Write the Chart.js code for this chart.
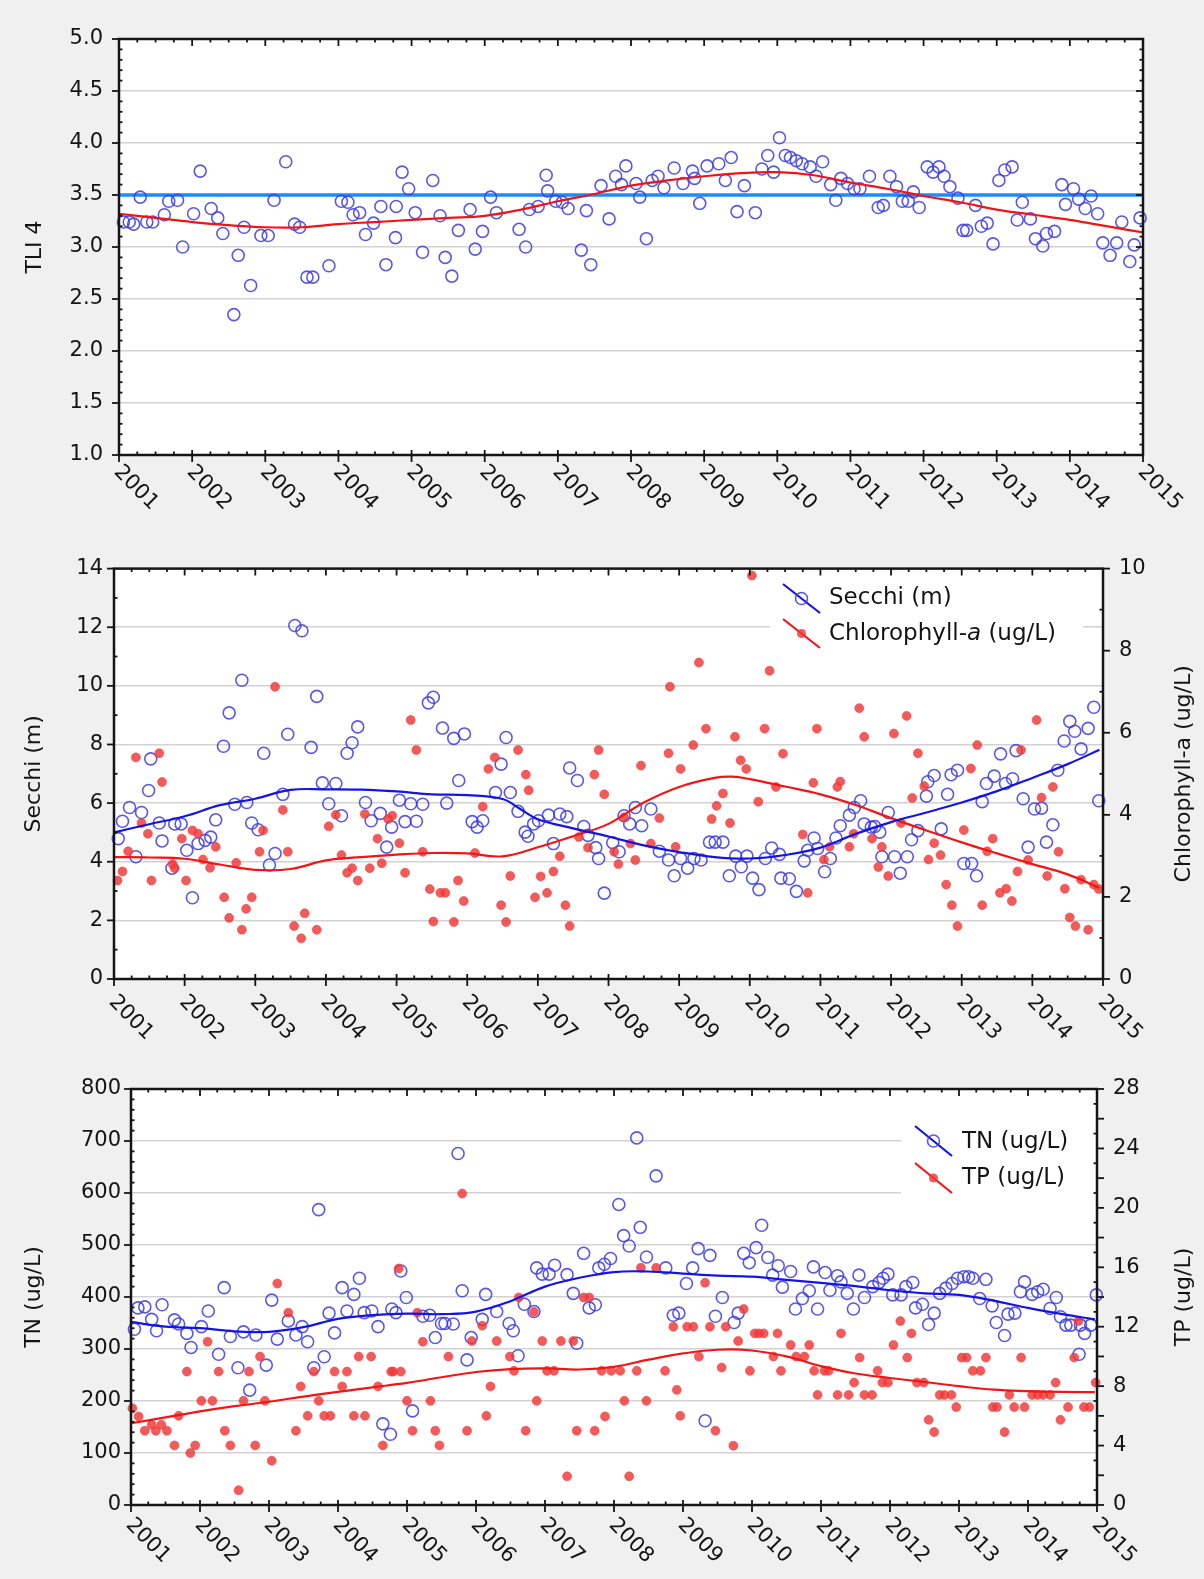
<!DOCTYPE html>
<html>
<head>
<meta charset="utf-8">
<script src="https://cdn.jsdelivr.net/npm/chart.js@4.4.1/dist/chart.umd.min.js"></script>
<style>
    html, body { margin: 0; padding: 0; background: #f0f0f0; }
    body { width: 1204px; height: 1579px; position: relative; overflow: hidden; }
    canvas { position: absolute; left: 0; }
</style>
</head>
<body>
<canvas id="tliChart" width="1204" height="535" style="top:0px"></canvas>
<canvas id="secchiChart" width="1204" height="520" style="top:540px"></canvas>
<canvas id="nutrientChart" width="1204" height="519" style="top:1060px"></canvas>
<script>
// x axis: years
var yearTicks = [2001, 2002, 2003, 2004, 2005, 2006, 2007, 2008, 2009, 2010, 2011, 2012, 2013, 2014, 2015];
var yearLabels = ['2001', '2002', '2003', '2004', '2005', '2006', '2007', '2008', '2009', '2010', '2011', '2012', '2013', '2014', '2015'];

// panel 1 - TLI samples [year, value]
var tliSamples = [
    [2001.06, 3.24], [2001.14, 3.24], [2001.20, 3.22], [2001.29, 3.48], [2001.38, 3.24], [2001.46, 3.24], [2001.62, 3.31], [2001.68, 3.44], [2001.80, 3.45], [2001.87, 3.00],
    [2002.02, 3.32], [2002.11, 3.73], [2002.26, 3.37], [2002.35, 3.28], [2002.42, 3.13], [2002.57, 2.35], [2002.63, 2.92], [2002.71, 3.19], [2002.80, 2.63], [2002.94, 3.11],
    [2003.04, 3.11], [2003.12, 3.45], [2003.28, 3.82], [2003.40, 3.22], [2003.47, 3.19], [2003.57, 2.71], [2003.65, 2.71], [2003.87, 2.82],
    [2004.04, 3.44], [2004.13, 3.43], [2004.20, 3.31], [2004.29, 3.33], [2004.37, 3.12], [2004.48, 3.23], [2004.58, 3.39], [2004.65, 2.83], [2004.78, 3.09], [2004.79, 3.39], [2004.87, 3.72], [2004.96, 3.56],
    [2005.05, 3.33], [2005.15, 2.95], [2005.29, 3.64], [2005.39, 3.30], [2005.46, 2.90], [2005.55, 2.72], [2005.64, 3.16], [2005.80, 3.36], [2005.87, 2.98], [2005.97, 3.15],
    [2006.08, 3.48], [2006.16, 3.33], [2006.47, 3.17], [2006.56, 3.00], [2006.61, 3.36], [2006.73, 3.39], [2006.84, 3.69], [2006.86, 3.54], [2006.97, 3.44],
    [2007.06, 3.43], [2007.14, 3.37], [2007.32, 2.97], [2007.39, 3.35], [2007.45, 2.83], [2007.59, 3.59], [2007.70, 3.27], [2007.79, 3.68], [2007.87, 3.60], [2007.93, 3.78],
    [2008.07, 3.61], [2008.12, 3.48], [2008.21, 3.08], [2008.29, 3.64], [2008.37, 3.68], [2008.45, 3.57], [2008.59, 3.76], [2008.71, 3.61], [2008.84, 3.73], [2008.87, 3.66], [2008.94, 3.42],
    [2009.04, 3.78], [2009.20, 3.80], [2009.29, 3.64], [2009.37, 3.86], [2009.45, 3.34], [2009.55, 3.59], [2009.70, 3.33], [2009.79, 3.75], [2009.87, 3.88], [2009.95, 3.72],
    [2010.03, 4.05], [2010.11, 3.88], [2010.18, 3.86], [2010.26, 3.83], [2010.34, 3.80], [2010.45, 3.77], [2010.53, 3.68], [2010.62, 3.82], [2010.73, 3.60], [2010.80, 3.45], [2010.87, 3.66], [2010.96, 3.61],
    [2011.05, 3.56], [2011.13, 3.56], [2011.26, 3.68], [2011.38, 3.38], [2011.45, 3.40], [2011.54, 3.68], [2011.63, 3.58], [2011.71, 3.44], [2011.79, 3.44], [2011.86, 3.53], [2011.94, 3.38],
    [2012.05, 3.77], [2012.13, 3.72], [2012.21, 3.77], [2012.28, 3.68], [2012.36, 3.58], [2012.47, 3.47], [2012.54, 3.16], [2012.59, 3.16], [2012.71, 3.40], [2012.79, 3.20], [2012.87, 3.23], [2012.95, 3.03],
    [2013.03, 3.64], [2013.11, 3.74], [2013.21, 3.77], [2013.28, 3.26], [2013.35, 3.43], [2013.46, 3.27], [2013.53, 3.08], [2013.63, 3.01], [2013.68, 3.13], [2013.79, 3.15], [2013.89, 3.60], [2013.94, 3.41],
    [2014.05, 3.56], [2014.12, 3.46], [2014.21, 3.37], [2014.29, 3.49], [2014.38, 3.32], [2014.45, 3.04], [2014.55, 2.92], [2014.64, 3.04], [2014.71, 3.24], [2014.82, 2.86], [2014.88, 3.02], [2014.96, 3.28]
];
var tliTrend = [
    [2001, 3.32], [2001.5, 3.28], [2002, 3.24], [2002.5, 3.21], [2003, 3.19], [2003.5, 3.19], [2004, 3.22], [2004.5, 3.24], [2005, 3.26], [2005.5, 3.28],
    [2006, 3.30], [2006.5, 3.36], [2007, 3.44], [2007.5, 3.51], [2008, 3.59], [2008.5, 3.64], [2009, 3.68], [2009.5, 3.71], [2010, 3.72], [2010.5, 3.69],
    [2011, 3.62], [2011.5, 3.56], [2012, 3.49], [2012.5, 3.43], [2013, 3.36], [2013.5, 3.31], [2014, 3.26], [2014.5, 3.20], [2015, 3.14]
];
var tliTarget = [[2001, 3.5], [2015, 3.5]];

// panel 2 - Secchi (m) and Chlorophyll-a (ug/L)
var secchiSamples = [
    [2001.06, 4.79], [2001.12, 5.38], [2001.22, 5.85], [2001.31, 4.17], [2001.39, 5.68], [2001.49, 6.43], [2001.52, 7.51], [2001.64, 5.32], [2001.68, 4.71], [2001.82, 3.78], [2001.86, 5.29], [2001.95, 5.29],
    [2002.03, 4.39], [2002.11, 2.77], [2002.19, 4.62], [2002.29, 4.73], [2002.37, 4.84], [2002.44, 5.43], [2002.55, 7.94], [2002.63, 9.08], [2002.71, 5.96], [2002.81, 10.19], [2002.88, 6.02], [2002.95, 5.32],
    [2003.04, 5.09], [2003.12, 7.70], [2003.20, 3.89], [2003.28, 4.28], [2003.39, 6.30], [2003.46, 8.35], [2003.56, 12.06], [2003.66, 11.88], [2003.79, 7.90], [2003.87, 9.64], [2003.95, 6.69],
    [2004.04, 5.98], [2004.14, 6.67], [2004.22, 5.57], [2004.30, 7.70], [2004.37, 8.06], [2004.45, 8.60], [2004.56, 6.02], [2004.64, 5.40], [2004.77, 5.65], [2004.86, 4.50], [2004.93, 5.18],
    [2005.04, 6.10], [2005.12, 5.37], [2005.20, 5.98], [2005.28, 5.38], [2005.37, 5.96], [2005.45, 9.42], [2005.52, 9.61], [2005.65, 8.56], [2005.71, 6.00], [2005.81, 8.21], [2005.88, 6.77], [2005.96, 8.36],
    [2006.07, 5.37], [2006.14, 5.18], [2006.22, 5.40], [2006.40, 6.36], [2006.48, 7.33], [2006.55, 8.24], [2006.61, 6.36], [2006.72, 5.72], [2006.82, 5.01], [2006.86, 4.87], [2006.94, 5.29],
    [2007.01, 5.40], [2007.15, 5.59], [2007.22, 4.62], [2007.31, 5.63], [2007.41, 5.54], [2007.45, 7.20], [2007.56, 6.77], [2007.65, 5.20], [2007.71, 4.90], [2007.82, 4.48], [2007.86, 4.11], [2007.94, 2.93],
    [2008.06, 4.65], [2008.15, 4.34], [2008.22, 5.57], [2008.30, 5.29], [2008.38, 5.85], [2008.47, 5.23], [2008.60, 5.80], [2008.72, 4.36], [2008.85, 4.06], [2008.93, 3.52],
    [2009.02, 4.11], [2009.12, 3.78], [2009.21, 4.11], [2009.31, 4.06], [2009.43, 4.67], [2009.51, 4.67], [2009.62, 4.67], [2009.71, 3.52], [2009.80, 4.19], [2009.88, 3.83], [2009.96, 4.19],
    [2010.04, 3.44], [2010.13, 3.05], [2010.22, 4.11], [2010.31, 4.47], [2010.42, 4.25], [2010.44, 3.44], [2010.56, 3.42], [2010.66, 2.99], [2010.77, 4.03], [2010.82, 4.39], [2010.91, 4.81], [2010.96, 4.45],
    [2011.06, 3.66], [2011.14, 4.11], [2011.22, 4.81], [2011.28, 5.23], [2011.41, 5.59], [2011.48, 5.85], [2011.57, 6.08], [2011.62, 5.29], [2011.72, 5.18], [2011.77, 5.20], [2011.84, 5.01], [2011.87, 4.17], [2011.96, 5.68],
    [2012.05, 4.17], [2012.13, 3.61], [2012.23, 4.17], [2012.29, 4.75], [2012.38, 5.06], [2012.50, 6.24], [2012.52, 6.73], [2012.61, 6.94], [2012.71, 5.12], [2012.80, 6.30], [2012.85, 6.97], [2012.94, 7.12],
    [2013.03, 3.94], [2013.14, 3.94], [2013.21, 3.52], [2013.29, 6.05], [2013.35, 6.67], [2013.46, 6.92], [2013.55, 7.68], [2013.62, 6.67], [2013.72, 6.83], [2013.77, 7.79], [2013.87, 6.15], [2013.94, 4.50],
    [2014.03, 5.80], [2014.13, 5.83], [2014.20, 4.67], [2014.29, 5.26], [2014.36, 7.12], [2014.45, 8.12], [2014.53, 8.79], [2014.60, 8.45], [2014.69, 7.85], [2014.79, 8.55], [2014.87, 9.27], [2014.94, 6.08]
];
var chlSamples = [
    [2001.05, 2.40], [2001.12, 2.62], [2001.20, 3.11], [2001.31, 5.40], [2001.39, 3.80], [2001.48, 3.54], [2001.53, 2.40], [2001.64, 5.50], [2001.68, 4.80], [2001.83, 2.80], [2001.86, 2.70], [2001.96, 3.42],
    [2002.02, 2.40], [2002.11, 3.62], [2002.19, 3.54], [2002.26, 2.91], [2002.36, 2.71], [2002.44, 3.22], [2002.56, 1.99], [2002.63, 1.49], [2002.73, 2.83], [2002.81, 1.20], [2002.87, 1.71], [2002.95, 1.99],
    [2003.06, 3.10], [2003.11, 3.62], [2003.28, 7.12], [2003.39, 4.12], [2003.46, 3.10], [2003.55, 1.29], [2003.65, 0.99], [2003.70, 1.60], [2003.87, 1.20],
    [2004.04, 3.72], [2004.14, 4.00], [2004.22, 3.02], [2004.30, 2.59], [2004.37, 2.70], [2004.45, 2.40], [2004.55, 4.02], [2004.62, 2.70], [2004.73, 3.42], [2004.79, 2.82], [2004.88, 3.90], [2004.94, 3.98],
    [2005.04, 3.31], [2005.12, 2.59], [2005.20, 6.31], [2005.28, 5.58], [2005.37, 3.10], [2005.47, 2.19], [2005.52, 1.40], [2005.62, 2.10], [2005.69, 2.10], [2005.81, 1.39], [2005.87, 2.40], [2005.95, 1.90],
    [2006.11, 3.07], [2006.22, 4.20], [2006.30, 5.12], [2006.39, 5.40], [2006.48, 1.80], [2006.55, 1.39], [2006.61, 2.51], [2006.72, 5.58], [2006.83, 4.98], [2006.87, 4.60], [2006.96, 1.99],
    [2007.04, 2.50], [2007.13, 2.10], [2007.22, 2.62], [2007.31, 2.99], [2007.39, 1.80], [2007.45, 1.29], [2007.58, 3.46], [2007.71, 3.20], [2007.80, 4.98], [2007.86, 5.58], [2007.94, 4.50],
    [2008.08, 3.10], [2008.14, 2.80], [2008.22, 3.94], [2008.31, 3.30], [2008.38, 2.90], [2008.46, 5.20], [2008.60, 3.30], [2008.72, 3.92], [2008.85, 5.50], [2008.87, 7.12], [2008.95, 3.22],
    [2009.02, 5.12], [2009.20, 5.70], [2009.28, 7.71], [2009.38, 6.10], [2009.46, 3.90], [2009.53, 4.22], [2009.62, 4.52], [2009.72, 3.80], [2009.79, 5.90], [2009.87, 5.33], [2009.95, 5.12],
    [2010.03, 9.83], [2010.12, 4.32], [2010.21, 6.10], [2010.28, 7.51], [2010.37, 4.68], [2010.47, 5.49], [2010.75, 3.52], [2010.82, 2.10], [2010.90, 4.78], [2010.95, 6.10],
    [2011.05, 2.91], [2011.13, 3.22], [2011.24, 4.68], [2011.28, 4.81], [2011.41, 3.22], [2011.47, 3.54], [2011.55, 6.60], [2011.62, 5.90], [2011.73, 3.42], [2011.82, 2.73], [2011.87, 3.22], [2011.96, 2.51],
    [2012.04, 5.98], [2012.14, 3.80], [2012.22, 6.41], [2012.30, 4.41], [2012.38, 5.50], [2012.47, 4.70], [2012.53, 2.91], [2012.61, 3.31], [2012.70, 3.02], [2012.78, 2.30], [2012.86, 1.80], [2012.94, 1.29],
    [2013.03, 3.63], [2013.13, 5.13], [2013.22, 5.70], [2013.29, 1.80], [2013.36, 3.11], [2013.44, 3.42], [2013.54, 2.10], [2013.63, 2.20], [2013.71, 1.90], [2013.79, 2.62], [2013.84, 5.58], [2013.94, 2.90],
    [2014.06, 6.31], [2014.13, 4.42], [2014.21, 2.51], [2014.29, 4.68], [2014.37, 3.10], [2014.46, 2.20], [2014.53, 1.50], [2014.61, 1.29], [2014.69, 2.42], [2014.79, 1.20], [2014.87, 2.30], [2014.94, 2.19]
];
var secchiTrend = [
    [2001, 5.00], [2001.5, 5.28], [2002, 5.55], [2002.5, 5.93], [2003, 6.15], [2003.5, 6.45], [2004, 6.47], [2004.5, 6.46], [2005, 6.40], [2005.5, 6.30],
    [2006, 6.27], [2006.5, 6.14], [2006.75, 5.80], [2007, 5.45], [2007.5, 5.14], [2008, 4.86], [2008.5, 4.56], [2009, 4.33], [2009.5, 4.16], [2010, 4.11],
    [2010.5, 4.23], [2011, 4.48], [2011.5, 4.95], [2012, 5.35], [2012.5, 5.68], [2013, 6.02], [2013.5, 6.41], [2014, 6.86], [2014.5, 7.33], [2014.95, 7.82]
];
var chlTrend = [
    [2001, 2.97], [2001.5, 2.96], [2002, 2.93], [2002.5, 2.79], [2003, 2.66], [2003.5, 2.68], [2004, 2.89], [2004.5, 2.97], [2005, 3.03], [2005.5, 3.07],
    [2006, 3.06], [2006.5, 2.99], [2007, 3.21], [2007.5, 3.48], [2008, 3.78], [2008.5, 4.30], [2009, 4.68], [2009.5, 4.90], [2009.75, 4.93], [2010, 4.87],
    [2010.5, 4.69], [2011, 4.50], [2011.5, 4.24], [2012, 3.92], [2012.5, 3.62], [2013, 3.33], [2013.5, 3.06], [2014, 2.80], [2014.5, 2.55], [2014.95, 2.22]
];

// panel 3 - TN and TP (ug/L)
var tnSamples = [
    [2001.05, 338], [2001.10, 379], [2001.20, 381], [2001.30, 357], [2001.37, 335], [2001.45, 385], [2001.63, 356], [2001.69, 348], [2001.81, 330], [2001.87, 303],
    [2002.02, 343], [2002.12, 373], [2002.27, 290], [2002.35, 418], [2002.44, 324], [2002.55, 264], [2002.63, 333], [2002.72, 221], [2002.81, 327], [2002.96, 269],
    [2003.04, 394], [2003.12, 319], [2003.28, 354], [2003.39, 327], [2003.48, 343], [2003.56, 314], [2003.65, 264], [2003.72, 568], [2003.80, 285], [2003.87, 369], [2003.95, 331],
    [2004.06, 418], [2004.13, 373], [2004.23, 405], [2004.31, 436], [2004.38, 370], [2004.49, 373], [2004.58, 343], [2004.65, 156], [2004.76, 136], [2004.78, 377], [2004.84, 370], [2004.91, 450], [2004.99, 399],
    [2005.08, 181], [2005.23, 363], [2005.33, 365], [2005.41, 322], [2005.50, 349], [2005.55, 349], [2005.67, 348], [2005.74, 676], [2005.80, 412], [2005.87, 279], [2005.93, 322],
    [2006.09, 357], [2006.14, 405], [2006.30, 372], [2006.48, 349], [2006.54, 335], [2006.61, 287], [2006.70, 386], [2006.84, 372], [2006.88, 456], [2006.96, 444],
    [2007.06, 444], [2007.14, 461], [2007.32, 443], [2007.41, 407], [2007.46, 311], [2007.56, 484], [2007.64, 379], [2007.73, 385], [2007.78, 456], [2007.86, 463], [2007.95, 474],
    [2008.07, 578], [2008.14, 518], [2008.22, 498], [2008.33, 706], [2008.38, 534], [2008.47, 477], [2008.61, 633], [2008.75, 456], [2008.86, 365], [2008.94, 369],
    [2009.05, 426], [2009.14, 456], [2009.22, 493], [2009.32, 162], [2009.39, 480], [2009.47, 363], [2009.57, 399], [2009.74, 351], [2009.80, 369], [2009.88, 484], [2009.96, 466],
    [2010.06, 495], [2010.14, 538], [2010.23, 476], [2010.30, 442], [2010.38, 460], [2010.44, 419], [2010.56, 449], [2010.63, 377], [2010.73, 397], [2010.83, 412], [2010.89, 458], [2010.95, 377],
    [2011.06, 447], [2011.13, 413], [2011.24, 441], [2011.29, 429], [2011.38, 407], [2011.47, 377], [2011.55, 442], [2011.63, 399], [2011.75, 420], [2011.84, 428], [2011.90, 436], [2011.97, 444],
    [2012.04, 404], [2012.16, 404], [2012.23, 420], [2012.33, 428], [2012.37, 379], [2012.47, 386], [2012.56, 347], [2012.64, 369], [2012.72, 407], [2012.81, 417], [2012.90, 426], [2012.98, 436],
    [2013.07, 439], [2013.14, 439], [2013.20, 436], [2013.30, 397], [2013.39, 434], [2013.48, 383], [2013.54, 351], [2013.66, 326], [2013.71, 367], [2013.81, 369], [2013.89, 410], [2013.95, 429],
    [2014.06, 405], [2014.14, 410], [2014.22, 415], [2014.32, 378], [2014.41, 399], [2014.47, 362], [2014.55, 346], [2014.62, 346], [2014.74, 290], [2014.76, 346], [2014.82, 330], [2014.91, 346], [2014.99, 404]
];
var tpSamples = [
    [2001.02, 6.52], [2001.11, 5.96], [2001.20, 5.00], [2001.30, 5.40], [2001.36, 5.00], [2001.44, 5.40], [2001.52, 5.00], [2001.63, 4.01], [2001.69, 6.00], [2001.81, 8.98], [2001.86, 3.50], [2001.93, 4.01],
    [2002.02, 7.01], [2002.11, 10.99], [2002.18, 7.01], [2002.27, 8.98], [2002.36, 5.00], [2002.44, 4.01], [2002.56, 0.99], [2002.63, 7.01], [2002.71, 8.98], [2002.80, 4.01], [2002.87, 9.99], [2002.94, 7.01],
    [2003.04, 2.98], [2003.12, 14.91], [2003.28, 12.94], [2003.39, 5.00], [2003.46, 7.98], [2003.56, 6.00], [2003.65, 8.98], [2003.72, 7.01], [2003.80, 6.00], [2003.89, 6.00], [2003.95, 8.98],
    [2004.06, 7.98], [2004.13, 8.98], [2004.23, 6.00], [2004.30, 9.99], [2004.39, 6.00], [2004.48, 9.99], [2004.58, 7.98], [2004.65, 4.01], [2004.77, 8.98], [2004.80, 8.98], [2004.88, 15.92], [2004.91, 8.98],
    [2005.00, 7.01], [2005.08, 5.00], [2005.15, 12.94], [2005.23, 10.99], [2005.34, 7.01], [2005.41, 5.00], [2005.47, 4.01], [2005.60, 9.99], [2005.80, 20.96], [2005.87, 5.00], [2005.94, 11.04],
    [2006.09, 12.07], [2006.15, 6.00], [2006.21, 7.98], [2006.30, 11.04], [2006.49, 9.99], [2006.55, 9.03], [2006.62, 13.97], [2006.72, 5.00], [2006.84, 13.00], [2006.88, 7.01], [2006.96, 11.04],
    [2007.03, 9.03], [2007.13, 9.03], [2007.23, 11.04], [2007.32, 1.93], [2007.41, 11.04], [2007.46, 5.00], [2007.56, 13.97], [2007.64, 13.97], [2007.72, 5.00], [2007.82, 9.03], [2007.87, 5.96], [2007.96, 9.03],
    [2008.09, 9.03], [2008.15, 7.01], [2008.22, 1.93], [2008.33, 9.03], [2008.39, 15.97], [2008.47, 7.01], [2008.61, 15.97], [2008.74, 9.03], [2008.86, 12.00], [2008.91, 7.75], [2008.96, 6.00],
    [2009.06, 12.00], [2009.15, 12.00], [2009.23, 9.99], [2009.32, 14.96], [2009.39, 12.00], [2009.47, 5.00], [2009.56, 9.25], [2009.62, 12.00], [2009.73, 3.99], [2009.80, 11.04], [2009.88, 13.19], [2009.97, 9.03],
    [2010.04, 11.55], [2010.10, 11.55], [2010.17, 11.55], [2010.31, 9.99], [2010.37, 11.55], [2010.42, 9.03], [2010.56, 10.77], [2010.64, 9.99], [2010.76, 9.99], [2010.83, 10.77], [2010.90, 9.03], [2010.95, 7.41],
    [2011.05, 9.03], [2011.11, 9.03], [2011.24, 7.41], [2011.29, 11.55], [2011.40, 7.41], [2011.48, 8.24], [2011.56, 9.92], [2011.63, 7.41], [2011.74, 7.41], [2011.82, 9.03], [2011.89, 8.24], [2011.97, 8.24],
    [2012.05, 10.77], [2012.15, 12.38], [2012.25, 9.92], [2012.31, 11.55], [2012.39, 8.24], [2012.49, 8.24], [2012.56, 5.73], [2012.64, 4.91], [2012.72, 7.41], [2012.79, 7.41], [2012.89, 7.41], [2012.96, 6.59],
    [2013.04, 9.92], [2013.11, 9.92], [2013.20, 9.03], [2013.31, 9.03], [2013.39, 9.92], [2013.49, 6.59], [2013.55, 6.59], [2013.66, 4.91], [2013.73, 7.41], [2013.80, 6.59], [2013.90, 9.92], [2013.95, 6.59],
    [2014.06, 7.41], [2014.14, 7.41], [2014.22, 7.41], [2014.32, 7.41], [2014.40, 8.24], [2014.47, 5.73], [2014.58, 6.59], [2014.67, 9.92], [2014.73, 12.38], [2014.81, 6.59], [2014.89, 6.59], [2014.98, 8.24]
];
var tnTrend = [
    [2001, 352], [2001.5, 343], [2002, 340], [2002.5, 334], [2003, 333], [2003.5, 342], [2004, 358], [2004.5, 365], [2005, 368], [2005.5, 367],
    [2006, 372], [2006.5, 392], [2007, 420], [2007.5, 437], [2008, 448], [2008.5, 449], [2009, 445], [2009.5, 441], [2010, 439], [2010.5, 433],
    [2011, 427], [2011.5, 421], [2012, 413], [2012.5, 407], [2013, 404], [2013.5, 393], [2014, 379], [2014.5, 367], [2014.97, 357]
];
var tpTrend = [
    [2001, 5.50], [2001.5, 5.90], [2002, 6.30], [2002.5, 6.65], [2003, 6.95], [2003.5, 7.30], [2004, 7.62], [2004.5, 7.92], [2005, 8.22], [2005.5, 8.60],
    [2006, 8.95], [2006.5, 9.15], [2007, 9.20], [2007.5, 9.12], [2008, 9.30], [2008.5, 9.78], [2009, 10.20], [2009.5, 10.45], [2010, 10.40], [2010.5, 10.00],
    [2011, 9.35], [2011.5, 8.85], [2012, 8.55], [2012.5, 8.28], [2013, 8.00], [2013.5, 7.76], [2014, 7.66], [2014.5, 7.61], [2014.97, 7.60]
];

var FONT = '"DejaVu Sans", "Open Sans", sans-serif';
var TEXT = '#141414';
var CIRCLE = 'rgba(60, 60, 225, 0.85)';
var DOT = 'rgba(240, 55, 55, 0.82)';

function toPoints(pairs) {
    return pairs.map(function (p) { return { x: p[0], y: p[1] }; });
}

function circleSet(pairs, axis, order) {
    return {
        data: toPoints(pairs), yAxisID: axis, order: order, clip: false,
        pointStyle: 'circle', pointRadius: 6, pointBorderWidth: 1.6,
        pointBorderColor: CIRCLE, pointBackgroundColor: 'rgba(0,0,0,0)'
    };
}

function dotSet(pairs, axis, order) {
    return {
        data: toPoints(pairs), yAxisID: axis, order: order, clip: false,
        pointStyle: 'circle', pointRadius: 4.5, pointBorderWidth: 1,
        pointBorderColor: 'rgba(235, 70, 70, 0.6)', pointBackgroundColor: DOT
    };
}

function lineSet(pairs, axis, color, width, order) {
    return {
        data: toPoints(pairs), yAxisID: axis, order: order, showLine: true,
        borderColor: color, borderWidth: width, pointRadius: 0, tension: 0.4, fill: false
    };
}

function xAxis() {
    return {
        type: 'linear', min: 2001, max: 2015,
        ticks: { display: false },
        grid: { display: false, drawTicks: false },
        border: { display: false },
        afterFit: function (s) { s.height = 0; }
    };
}

function yAxis(pos, min, max, step, width, pad, fmt, grid) {
    return {
        type: 'linear', position: pos, min: min, max: max,
        ticks: { stepSize: step, padding: pad, color: TEXT, font: { family: FONT, size: 21 }, callback: fmt },
        grid: { display: grid, color: '#d2d2d2', lineWidth: 1.6, drawTicks: false },
        border: { display: false },
        afterFit: function (s) { s.width = width; }
    };
}

function baseOptions(padding, scales) {
    return {
        responsive: false,
        animation: false,
        events: [],
        layout: { padding: padding },
        plugins: { legend: { display: false }, tooltip: { enabled: false } },
        scales: scales
    };
}

// axis frame, tick marks, rotated year labels, axis titles and the legend
function framePlugin(cfg) {
    function yTicks(c, scale, a, t, side) {
        var n = Math.round((scale.max - scale.min) / t.minor);
        var x0 = side === 'left' ? a.left : a.right;
        var outDir = side === 'left' ? -1 : 1;
        for (var i = 0; i <= n; i++) {
            var v = scale.min + i * t.minor;
            var py = scale.getPixelForValue(v);
            var r = v / t.major;
            var major = Math.abs(r - Math.round(r)) < 1e-6;
            c.beginPath();
            if (major) {
                var d = t.mirror ? -outDir : outDir;
                c.moveTo(x0, py); c.lineTo(x0 + d * 7, py);
            } else {
                c.moveTo(x0, py); c.lineTo(x0 - outDir * 3.5, py);
            }
            c.stroke();
        }
    }

    return {
        id: 'frame',
        beforeDraw: function (chart) {
            var a = chart.chartArea, c = chart.ctx;
            c.save();
            c.fillStyle = '#ffffff';
            c.fillRect(a.left, a.top, a.right - a.left, a.bottom - a.top);
            c.restore();
        },
        beforeDatasetsDraw: function (chart) {
            if (!cfg.legend) return;
            var c = chart.ctx, b = cfg.legend.box;
            c.save();
            c.fillStyle = '#ffffff';
            c.fillRect(b[0], b[1], b[2], b[3]);
            c.restore();
        },
        afterDatasetsDraw: function (chart) {
            if (!cfg.legend) return;
            var c = chart.ctx;
            c.save();
            cfg.legend.entries.forEach(function (e) {
                c.strokeStyle = e.color;
                c.lineWidth = 2.2;
                c.beginPath(); c.moveTo(e.x0, e.y0); c.lineTo(e.x1, e.y1); c.stroke();
                var mx = (e.x0 + e.x1) / 2, my = (e.y0 + e.y1) / 2;
                c.beginPath();
                if (e.marker === 'circle') {
                    c.arc(mx, my, 6, 0, Math.PI * 2);
                    c.lineWidth = 1.6; c.strokeStyle = CIRCLE; c.stroke();
                } else {
                    c.arc(mx, my, 4.5, 0, Math.PI * 2);
                    c.fillStyle = DOT; c.fill();
                }
                var tx = e.tx;
                c.fillStyle = TEXT;
                c.textBaseline = 'middle';
                c.textAlign = 'left';
                e.parts.forEach(function (p) {
                    c.font = (p[1] ? 'italic ' : '') + '23px ' + FONT;
                    c.fillText(p[0], tx, e.ty);
                    tx += c.measureText(p[0]).width;
                });
            });
            c.restore();
        },
        afterDraw: function (chart) {
            var a = chart.chartArea, c = chart.ctx;
            var xs = chart.scales.x;
            c.save();
            c.strokeStyle = '#151515';
            c.lineWidth = 2.5;
            c.strokeRect(a.left, a.top, a.right - a.left, a.bottom - a.top);

            c.lineWidth = 1.8;
            // year ticks and quarter ticks
            for (var q = 0; q <= 56; q++) {
                var px = xs.getPixelForValue(2001 + q / 4);
                c.beginPath();
                if (q % 4 === 0) {
                    c.moveTo(px, a.bottom - 5); c.lineTo(px, a.bottom + 7);
                    c.moveTo(px, a.top); c.lineTo(px, a.top + 7);
                } else {
                    c.moveTo(px, a.bottom - 3.5); c.lineTo(px, a.bottom);
                    c.moveTo(px, a.top); c.lineTo(px, a.top + 3.5);
                }
                c.stroke();
            }
            yTicks(c, chart.scales[cfg.left.id], a, cfg.left, 'left');
            yTicks(c, chart.scales[cfg.right.id], a, cfg.right, 'right');

            // rotated year labels
            c.fillStyle = TEXT;
            c.font = '21px ' + FONT;
            yearTicks.forEach(function (yr, i) {
                var px = xs.getPixelForValue(yr);
                c.save();
                c.translate(px - 2, a.bottom + cfg.labelDy);
                c.rotate(Math.PI / 4);
                c.textAlign = 'left';
                c.textBaseline = 'middle';
                c.fillText(yearLabels[i], 0, 0);
                c.restore();
            });

            // axis titles, read bottom to top
            c.font = '22px ' + FONT;
            cfg.titles.forEach(function (t) {
                c.save();
                c.translate(t.x, (a.top + a.bottom) / 2);
                c.rotate(-Math.PI / 2);
                c.textAlign = 'center';
                c.textBaseline = 'middle';
                c.fillText(t.text, 0, 0);
                c.restore();
            });
            c.restore();
        }
    };
}

// panel 1: TLI
new Chart(document.getElementById('tliChart'), {
    type: 'scatter',
    data: {
        datasets: [
            lineSet(tliTrend, 'y', '#f01414', 2.2, 0),
            circleSet(tliSamples, 'y', 1),
            lineSet(tliTarget, 'y', '#1a8cff', 3.5, 2)
        ]
    },
    options: baseOptions({ left: 0, top: 39, right: 61, bottom: 80 }, {
        x: xAxis(),
        y: yAxis('left', 1, 5, 0.5, 119, 16, function (v) { return v.toFixed(1); }, true)
    }),
    plugins: [framePlugin({
        left: { id: 'y', major: 0.5, minor: 0.1 },
        right: { id: 'y', major: 0.5, minor: 0.1, mirror: true },
        titles: [{ text: 'TLI 4', x: 35 }],
        labelDy: 14
    })]
});

// panel 2: Secchi and Chlorophyll-a
new Chart(document.getElementById('secchiChart'), {
    type: 'scatter',
    data: {
        datasets: [
            lineSet(secchiTrend, 'y', '#1414e6', 2.2, 0),
            lineSet(chlTrend, 'y1', '#f51414', 2.2, 0),
            dotSet(chlSamples, 'y1', 1),
            circleSet(secchiSamples, 'y', 2)
        ]
    },
    options: baseOptions({ left: 0, top: 23, right: 41, bottom: 81 }, {
        x: xAxis(),
        y: yAxis('left', 0, 14, 2, 114, 11, function (v) { return v; }, true),
        y1: yAxis('right', 0, 10, 2, 60, 16, function (v) { return v; }, false)
    }),
    plugins: [framePlugin({
        left: { id: 'y', major: 2, minor: 1 },
        right: { id: 'y1', major: 2, minor: 1 },
        titles: [{ text: 'Secchi (m)', x: 34 }, { text: 'Chlorophyll-a (ug/L)', x: 1184 }],
        labelDy: 20,
        legend: {
            box: [770, 28, 313, 94],
            entries: [
                { x0: 783, y0: 44, x1: 820, y1: 73, color: '#1414e6', marker: 'circle', tx: 829, ty: 58, parts: [['Secchi (m)', false]] },
                { x0: 783, y0: 79, x1: 820, y1: 108, color: '#f51414', marker: 'dot', tx: 829, ty: 94, parts: [['Chlorophyll-', false], ['a', true], [' (ug/L)', false]] }
            ]
        }
    })]
});

// panel 3: TN and TP
new Chart(document.getElementById('nutrientChart'), {
    type: 'scatter',
    data: {
        datasets: [
            lineSet(tnTrend, 'y', '#1414e6', 2.2, 0),
            lineSet(tpTrend, 'y1', '#f51414', 2.2, 0),
            dotSet(tpSamples, 'y1', 1),
            circleSet(tnSamples, 'y', 2)
        ]
    },
    options: baseOptions({ left: 0, top: 29, right: 47, bottom: 74 }, {
        x: xAxis(),
        y: yAxis('left', 0, 800, 100, 131, 10, function (v) { return v; }, true),
        y1: yAxis('right', 0, 28, 4, 60, 16, function (v) { return v; }, false)
    }),
    plugins: [framePlugin({
        left: { id: 'y', major: 100, minor: 20 },
        right: { id: 'y1', major: 2, minor: 1 },
        titles: [{ text: 'TN (ug/L)', x: 34 }, { text: 'TP (ug/L)', x: 1184 }],
        labelDy: 17,
        legend: {
            box: [901, 48, 195, 97],
            entries: [
                { x0: 915, y0: 66, x1: 952, y1: 96, color: '#1414e6', marker: 'circle', tx: 962, ty: 82, parts: [['TN (ug/L)', false]] },
                { x0: 915, y0: 103, x1: 952, y1: 133, color: '#f51414', marker: 'dot', tx: 962, ty: 118, parts: [['TP (ug/L)', false]] }
            ]
        }
    })]
});
</script>
</body>
</html>
